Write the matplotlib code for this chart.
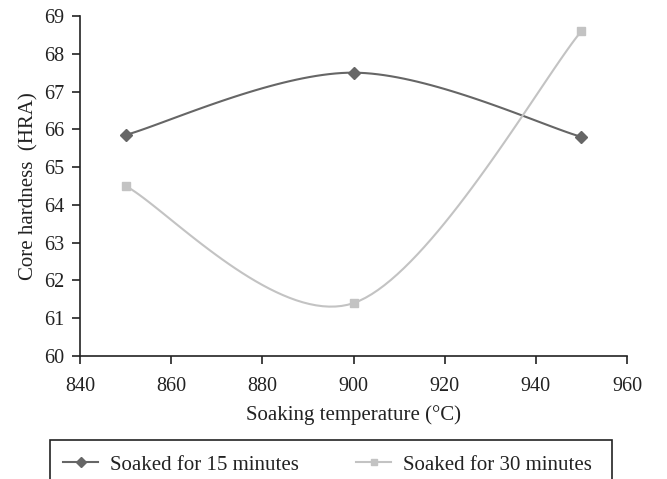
import numpy as np
import matplotlib.pyplot as plt
from matplotlib.patches import Rectangle

plt.rcParams['font.family'] = ['Liberation Serif', 'DejaVu Serif']

# data
temperatura = [850, 900, 950]
dureza_15 = [65.85, 67.5, 65.8]
dureza_30 = [64.5, 61.4, 68.6]
etiquetas = ["Soaked for 15 minutes", "Soaked for 30 minutes"]


def suavizar(xs, ys, n=40):
    # curva suavizada tipo Excel (Bezier con tension 1/6)
    xs = np.asarray(xs, float)
    ys = np.asarray(ys, float)
    pts = np.column_stack([xs, ys])
    out = []
    t = np.linspace(0, 1, n)[:, None]
    for i in range(len(pts) - 1):
        p0 = pts[max(i - 1, 0)]
        p1 = pts[i]
        p2 = pts[i + 1]
        p3 = pts[min(i + 2, len(pts) - 1)]
        c1 = p1 + (p2 - p0) / 6
        c2 = p2 - (p3 - p1) / 6
        seg = ((1 - t) ** 3) * p1 + 3 * ((1 - t) ** 2) * t * c1 + 3 * (1 - t) * t ** 2 * c2 + t ** 3 * p2
        out.append(seg)
    out = np.vstack(out)
    return out[:, 0], out[:, 1]


W, H = 667, 479
fig = plt.figure(figsize=(W / 100, H / 100), dpi=100)
ax = fig.add_axes([80 / W, 1 - 356 / H, 547 / W, 340 / H])

c15 = '#666666'
c30 = '#c3c3c3'
negro = '#222222'

sx, sy = suavizar(temperatura, dureza_15)
ax.plot(sx, sy, color=c15, lw=1.5)
ax.plot(temperatura, dureza_15, ls='none', marker='D', ms=6, color=c15)
sx, sy = suavizar(temperatura, dureza_30)
ax.plot(sx, sy, color=c30, lw=1.5)
ax.plot(temperatura, dureza_30, ls='none', marker='s', ms=6, color=c30)

# handles para la leyenda
h1, = ax.plot([], [], color=c15, lw=1.5, marker='D', ms=5)
h2, = ax.plot([], [], color=c30, lw=1.5, marker='s', ms=5)

ax.set_xlim(840, 960)
ax.set_ylim(60, 69)
ax.set_xticks(np.arange(840, 961, 20))
ax.set_yticks(np.arange(60, 70, 1))
ax.spines['top'].set_visible(False)
ax.spines['right'].set_visible(False)
for s in ['left', 'bottom']:
    ax.spines[s].set_linewidth(1.2)
    ax.spines[s].set_color(negro)
ax.tick_params(direction='out', length=6, width=1.2, labelsize=14.5, colors=negro, labelcolor=negro, pad=5)
ax.tick_params(axis='x', pad=9)

ax.set_xlabel("Soaking temperature (°C)", fontsize=15, labelpad=7, color=negro)
ax.set_ylabel("Core hardness  (HRA)", fontsize=15, labelpad=4, color=negro)

# marco de la leyenda (sale por abajo de la figura)
marco = Rectangle((50 / W, -0.05), 562 / W, 0.05 + 1 - 440 / H, transform=fig.transFigure,
                  fill=False, edgecolor=negro, lw=1.2, clip_on=False)
fig.patches.append(marco)

leg = fig.legend([h1, h2], etiquetas, loc='upper left', ncol=2,
                 bbox_to_anchor=(63 / W, 1 - 455 / H),
                 fontsize=15, frameon=False, handlelength=1.7,
                 borderpad=0, borderaxespad=0, handletextpad=0.55, columnspacing=2.75)
for txt in leg.get_texts():
    txt.set_color(negro)

fig.savefig("out.png", dpi=100)
